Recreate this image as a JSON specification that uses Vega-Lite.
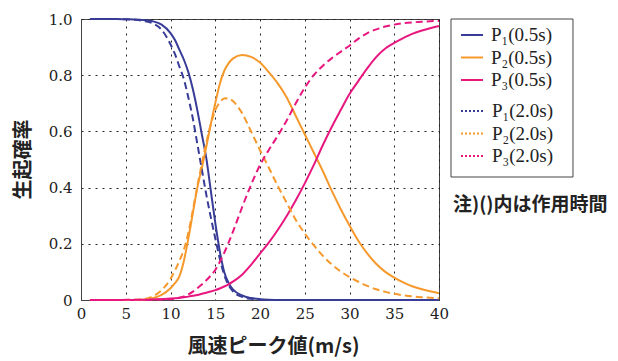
{
  "$schema": "https://vega.github.io/schema/vega-lite/v6.json",
  "width": 358,
  "height": 281,
  "autosize": {"type": "none"},
  "padding": {"left": 81, "top": 19, "right": 179, "bottom": 61},
  "background": "white",
  "config": {
    "view": {"stroke": "#444", "strokeWidth": 1},
    "axis": {
      "domainColor": "#444", "ticks": false, "labelColor": "#222", "titleColor": "#222",
      "gridColor": "#222", "gridDash": [2, 5], "gridWidth": 1, "gridOpacity": 1,
      "labelFont": "DejaVu Serif", "labelFontWeight": "normal", "labelFontSize": 15,
      "titleFont": "Noto Sans CJK JP", "titleFontWeight": "bold", "titleFontSize": 20
    },
    "legend": {"labelFont": "Liberation Serif", "labelFontSize": 19, "labelColor": "#222"}
  },
  "data": {
    "values": [
      {"x": 1, "p1a": 1, "p1b": 1, "p2a": 0, "p2b": 0, "p3a": 0, "p3b": 0},
      {"x": 2, "p1a": 1, "p1b": 1, "p2a": 0, "p2b": 0, "p3a": 0, "p3b": 0},
      {"x": 3, "p1a": 1, "p1b": 1, "p2a": 0, "p2b": 0, "p3a": 0, "p3b": 0},
      {"x": 4, "p1a": 1, "p1b": 1, "p2a": 0, "p2b": 0, "p3a": 0, "p3b": 0},
      {"x": 5, "p1a": 0.999, "p1b": 0.999, "p2a": 0, "p2b": 0, "p3a": 0, "p3b": 0.0005},
      {"x": 6, "p1a": 0.998, "p1b": 0.997, "p2a": 0, "p2b": 0.001, "p3a": 0, "p3b": 0.001},
      {"x": 7, "p1a": 0.996, "p1b": 0.993, "p2a": 0.001, "p2b": 0.003, "p3a": 0.001, "p3b": 0.001},
      {"x": 8, "p1a": 0.992, "p1b": 0.985, "p2a": 0.006, "p2b": 0.013, "p3a": 0.002, "p3b": 0.001},
      {"x": 9, "p1a": 0.98, "p1b": 0.962, "p2a": 0.018, "p2b": 0.035, "p3a": 0.003, "p3b": 0.002},
      {"x": 10, "p1a": 0.95, "p1b": 0.91, "p2a": 0.042, "p2b": 0.075, "p3a": 0.005, "p3b": 0.003},
      {"x": 10.5, "p1a": 0.925, "p1b": 0.875, "p2a": 0.06, "p2b": 0.105, "p3a": 0.006, "p3b": 0.005},
      {"x": 11, "p1a": 0.89, "p1b": 0.83, "p2a": 0.085, "p2b": 0.14, "p3a": 0.008, "p3b": 0.008},
      {"x": 11.5, "p1a": 0.855, "p1b": 0.785, "p2a": 0.14, "p2b": 0.18, "p3a": 0.01, "p3b": 0.013},
      {"x": 12, "p1a": 0.81, "p1b": 0.72, "p2a": 0.22, "p2b": 0.24, "p3a": 0.012, "p3b": 0.02},
      {"x": 12.5, "p1a": 0.75, "p1b": 0.645, "p2a": 0.31, "p2b": 0.32, "p3a": 0.015, "p3b": 0.03},
      {"x": 13, "p1a": 0.675, "p1b": 0.555, "p2a": 0.4, "p2b": 0.405, "p3a": 0.018, "p3b": 0.042},
      {"x": 13.5, "p1a": 0.59, "p1b": 0.465, "p2a": 0.47, "p2b": 0.485, "p3a": 0.022, "p3b": 0.055},
      {"x": 14, "p1a": 0.505, "p1b": 0.375, "p2a": 0.545, "p2b": 0.56, "p3a": 0.026, "p3b": 0.07},
      {"x": 14.5, "p1a": 0.39, "p1b": 0.295, "p2a": 0.625, "p2b": 0.625, "p3a": 0.03, "p3b": 0.087},
      {"x": 15, "p1a": 0.275, "p1b": 0.22, "p2a": 0.7, "p2b": 0.675, "p3a": 0.035, "p3b": 0.107},
      {"x": 15.5, "p1a": 0.175, "p1b": 0.148, "p2a": 0.768, "p2b": 0.703, "p3a": 0.041, "p3b": 0.135},
      {"x": 16, "p1a": 0.1, "p1b": 0.09, "p2a": 0.815, "p2b": 0.717, "p3a": 0.048, "p3b": 0.168},
      {"x": 16.5, "p1a": 0.06, "p1b": 0.052, "p2a": 0.843, "p2b": 0.718, "p3a": 0.056, "p3b": 0.205},
      {"x": 17, "p1a": 0.037, "p1b": 0.03, "p2a": 0.86, "p2b": 0.707, "p3a": 0.066, "p3b": 0.245},
      {"x": 18, "p1a": 0.016, "p1b": 0.011, "p2a": 0.872, "p2b": 0.665, "p3a": 0.09, "p3b": 0.33},
      {"x": 19, "p1a": 0.007, "p1b": 0.004, "p2a": 0.865, "p2b": 0.6, "p3a": 0.125, "p3b": 0.41},
      {"x": 20, "p1a": 0.003, "p1b": 0.001, "p2a": 0.845, "p2b": 0.533, "p3a": 0.165, "p3b": 0.48},
      {"x": 21, "p1a": 0.001, "p1b": 0, "p2a": 0.81, "p2b": 0.47, "p3a": 0.205, "p3b": 0.535},
      {"x": 22, "p1a": 0, "p1b": 0, "p2a": 0.77, "p2b": 0.405, "p3a": 0.25, "p3b": 0.585},
      {"x": 23, "p1a": 0, "p1b": 0, "p2a": 0.72, "p2b": 0.345, "p3a": 0.3, "p3b": 0.64},
      {"x": 24, "p1a": 0, "p1b": 0, "p2a": 0.655, "p2b": 0.285, "p3a": 0.355, "p3b": 0.7},
      {"x": 25, "p1a": 0, "p1b": 0, "p2a": 0.59, "p2b": 0.237, "p3a": 0.415, "p3b": 0.755},
      {"x": 26, "p1a": 0, "p1b": 0, "p2a": 0.525, "p2b": 0.195, "p3a": 0.48, "p3b": 0.8},
      {"x": 27, "p1a": 0, "p1b": 0, "p2a": 0.46, "p2b": 0.158, "p3a": 0.55, "p3b": 0.833},
      {"x": 28, "p1a": 0, "p1b": 0, "p2a": 0.39, "p2b": 0.127, "p3a": 0.615, "p3b": 0.86},
      {"x": 29, "p1a": 0, "p1b": 0, "p2a": 0.325, "p2b": 0.102, "p3a": 0.675, "p3b": 0.883},
      {"x": 30, "p1a": 0, "p1b": 0, "p2a": 0.265, "p2b": 0.082, "p3a": 0.733, "p3b": 0.905},
      {"x": 31, "p1a": 0, "p1b": 0, "p2a": 0.21, "p2b": 0.065, "p3a": 0.78, "p3b": 0.93},
      {"x": 32, "p1a": 0, "p1b": 0, "p2a": 0.165, "p2b": 0.05, "p3a": 0.825, "p3b": 0.95},
      {"x": 33, "p1a": 0, "p1b": 0, "p2a": 0.128, "p2b": 0.038, "p3a": 0.865, "p3b": 0.963},
      {"x": 34, "p1a": 0, "p1b": 0, "p2a": 0.1, "p2b": 0.029, "p3a": 0.895, "p3b": 0.973},
      {"x": 35, "p1a": 0, "p1b": 0, "p2a": 0.08, "p2b": 0.022, "p3a": 0.915, "p3b": 0.98},
      {"x": 36, "p1a": 0, "p1b": 0, "p2a": 0.063, "p2b": 0.017, "p3a": 0.932, "p3b": 0.985},
      {"x": 37, "p1a": 0, "p1b": 0, "p2a": 0.049, "p2b": 0.013, "p3a": 0.947, "p3b": 0.988},
      {"x": 38, "p1a": 0, "p1b": 0, "p2a": 0.039, "p2b": 0.01, "p3a": 0.958, "p3b": 0.99},
      {"x": 39, "p1a": 0, "p1b": 0, "p2a": 0.031, "p2b": 0.008, "p3a": 0.967, "p3b": 0.992},
      {"x": 40, "p1a": 0, "p1b": 0, "p2a": 0.024, "p2b": 0.006, "p3a": 0.975, "p3b": 0.993}
    ]
  },
  "layer": [
    {
      "transform": [
        {"fold": ["p1a", "p2a", "p3a"], "as": ["series", "y"]}
      ],
      "mark": {"type": "line", "interpolate": "monotone", "strokeWidth": 2},
      "encoding": {
        "x": {
          "field": "x", "type": "quantitative", "title": "風速ピーク値(m/s)",
          "scale": {"domain": [0, 40], "nice": false},
          "axis": {
            "values": [0, 5, 10, 15, 20, 25, 30, 35, 40],
            "grid": true,
            "labelFont": "DejaVu Serif", "labelFontSize": 15, "labelFontWeight": "normal",
            "labelPadding": 6, "labelFlush": false, "labelOverlap": false,
            "titleX": 192, "titleY": 46, "titleBaseline": "middle", "titleAlign": "center"
          }
        },
        "y": {
          "field": "y", "type": "quantitative", "title": "生起確率",
          "scale": {"domain": [0, 1], "nice": false},
          "axis": {
            "values": [0, 0.1, 0.2, 0.3, 0.4, 0.5, 0.6, 0.7, 0.8, 0.9, 1.0],
            "grid": true,
            "labelExpr": "round(datum.value*10) % 2 === 0 ? (datum.value === 0 ? '0' : format(datum.value, '.1f')) : ''",
            "labelFont": "DejaVu Serif", "labelFontSize": 15, "labelFontWeight": "normal",
            "labelPadding": 9, "labelFlush": false, "labelOverlap": false,
            "titleX": -58, "titleY": 140, "titleBaseline": "middle", "titleAlign": "center", "titleAngle": 270
          }
        },
        "stroke": {
          "field": "series", "type": "nominal",
          "scale": {"domain": ["p1a", "p2a", "p3a"], "range": ["#383c97", "#f6992c", "#e8177f"]},
          "legend": {
            "orient": "none", "legendX": 379, "legendY": 4, "padding": 0, "title": null,
            "symbolType": "stroke", "symbolSize": 484, "symbolStrokeWidth": 2,
            "rowPadding": 0.5, "labelOffset": 7,
            "labelExpr": "datum.label === 'p1a' ? 'P₁(0.5s)' : datum.label === 'p2a' ? 'P₂(0.5s)' : 'P₃(0.5s)'"
          }
        }
      }
    },
    {
      "transform": [
        {"fold": ["p1b", "p2b", "p3b"], "as": ["series", "y"]}
      ],
      "mark": {"type": "line", "interpolate": "monotone", "strokeWidth": 2, "strokeDash": [7, 4]},
      "encoding": {
        "x": {"field": "x", "type": "quantitative", "title": "風速ピーク値(m/s)"},
        "y": {"field": "y", "type": "quantitative", "title": "生起確率"},
        "color": {
          "field": "series", "type": "nominal",
          "scale": {"domain": ["p1b", "p2b", "p3b"], "range": ["#383c97", "#f6992c", "#e8177f"]},
          "legend": {
            "orient": "none", "legendX": 379, "legendY": 80, "padding": 0, "title": null,
            "symbolType": "stroke", "symbolSize": 484, "symbolStrokeWidth": 2, "symbolDash": [2, 2],
            "rowPadding": 0.5, "labelOffset": 8,
            "labelExpr": "datum.label === 'p1b' ? 'P₁(2.0s)' : datum.label === 'p2b' ? 'P₂(2.0s)' : 'P₃(2.0s)'"
          }
        }
      }
    },
    {
      "data": {"values": [{}]},
      "mark": {"type": "rect", "fillOpacity": 0, "stroke": "#444", "strokeWidth": 1},
      "encoding": {
        "x": {"datum": 41.34, "type": "quantitative", "title": "風速ピーク値(m/s)"},
        "x2": {"datum": 54.97},
        "y": {"datum": 1.0, "type": "quantitative", "title": "生起確率"},
        "y2": {"datum": 0.4377}
      }
    },
    {
      "data": {"values": [{}]},
      "mark": {"type": "text", "text": "注)()内は作用時間", "align": "left", "baseline": "middle", "font": "Noto Sans CJK JP", "fontWeight": "bold", "fontSize": 19, "color": "#222"},
      "encoding": {
        "x": {"datum": 41.56, "type": "quantitative", "title": "風速ピーク値(m/s)"},
        "y": {"datum": 0.338, "type": "quantitative", "title": "生起確率"}
      }
    }
  ]
}
